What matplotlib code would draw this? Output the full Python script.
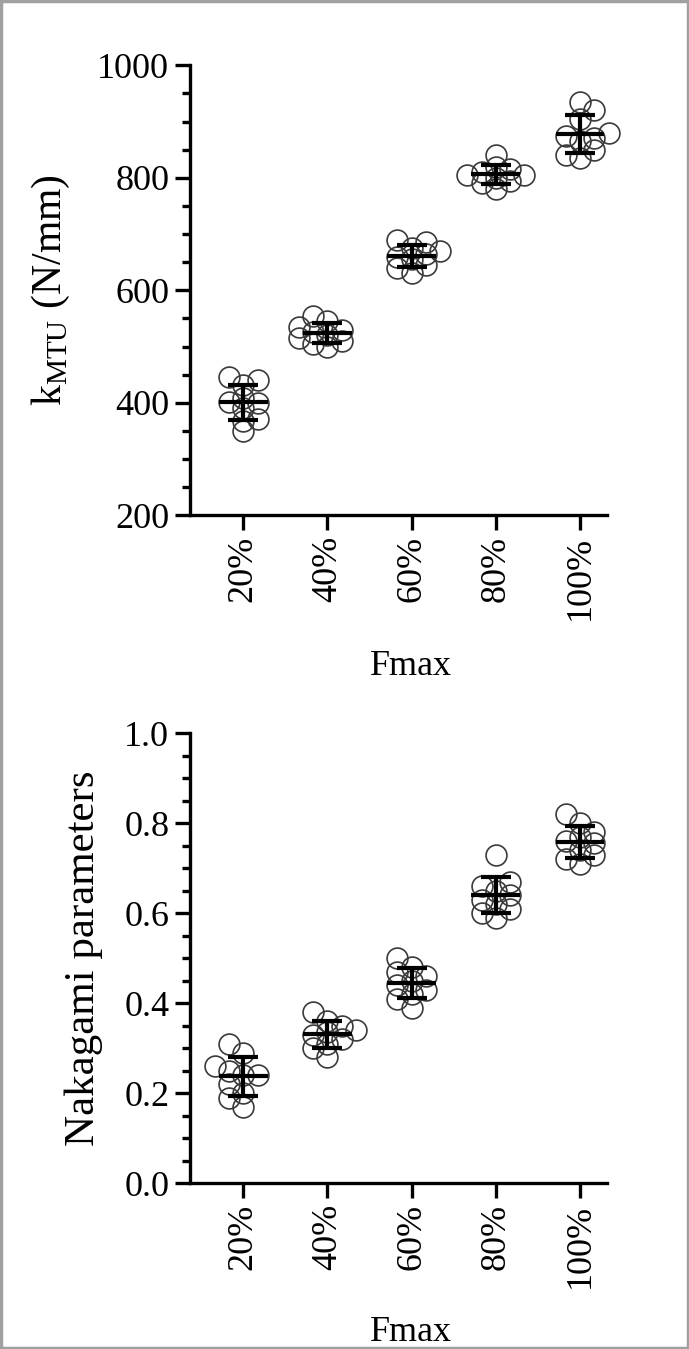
import matplotlib as mpl
import matplotlib.pyplot as plt
import numpy as np
from matplotlib.patches import Rectangle
from matplotlib.ticker import MultipleLocator

mpl.rcParams["font.family"] = "Liberation Serif"
mpl.rcParams["mathtext.fontset"] = "custom"
mpl.rcParams["mathtext.rm"] = "Liberation Serif"
mpl.rcParams["axes.linewidth"] = 2.4

# %%
# Values, one list per loading level
categories = ["20%", "40%", "60%", "80%", "100%"]

k_mtu = [
    [440, 445, 432, 400, 402, 390, 408, 368, 372, 350],
    [555, 545, 535, 530, 525, 520, 515, 505, 500, 510],
    [690, 685, 675, 670, 665, 660, 655, 645, 640, 630],
    [840, 820, 815, 810, 805, 805, 800, 795, 790, 780],
    [935, 920, 905, 880, 875, 870, 865, 850, 840, 835],
]

nakagami = [
    [0.31, 0.29, 0.26, 0.25, 0.24, 0.24, 0.22, 0.20, 0.19, 0.17],
    [0.38, 0.36, 0.35, 0.34, 0.335, 0.33, 0.32, 0.31, 0.30, 0.28],
    [0.50, 0.48, 0.47, 0.46, 0.45, 0.44, 0.43, 0.42, 0.41, 0.39],
    [0.73, 0.67, 0.66, 0.65, 0.64, 0.63, 0.62, 0.61, 0.60, 0.59],
    [0.82, 0.80, 0.78, 0.77, 0.76, 0.755, 0.74, 0.73, 0.72, 0.71],
]


def swarm_offsets(values, px_per_unit_y, px_per_cat, diam=22, overlap=0.45, max_k=2):
    """Loose beeswarm: push points sideways, but only a couple of columns out."""
    ys = np.asarray(values) * px_per_unit_y
    placed = []
    offsets = np.zeros(len(ys))
    step = diam * 0.65
    for n, i in enumerate(np.argsort(ys)):
        sign = 1 if n % 2 == 0 else -1
        best, best_d = 0.0, -1
        done = False
        for k in range(0, max_k + 1):
            cands = [0.0] if k == 0 else [sign * k * step, -sign * k * step]
            for c in cands:
                d = min([np.hypot(c - px, ys[i] - py) for px, py in placed] or [1e9])
                if d >= diam * overlap:
                    best, done = c, True
                    break
                if d > best_d:
                    best, best_d = c, d
            if done:
                break
        placed.append((best, ys[i]))
        offsets[i] = best / px_per_cat
    return offsets


def draw_panel(ax, groups, px_per_unit_y):
    x = np.arange(len(categories))
    for i, vals in enumerate(groups):
        vals = np.asarray(vals, dtype=float)
        off = swarm_offsets(vals, px_per_unit_y, 84.25)
        ax.plot(x[i] + off, vals, "o", ms=15, mfc="none", mec="#3a3a3a",
                mew=1.2, zorder=2, clip_on=False)
        m, sd = vals.mean(), vals.std(ddof=1)
        ax.plot([x[i] - 0.29, x[i] + 0.29], [m, m], color="black", lw=3,
                solid_capstyle="butt", zorder=3)
        ax.errorbar(x[i], m, yerr=sd, fmt="none", ecolor="black", elinewidth=3,
                    capsize=11, capthick=3, zorder=3)
    ax.set_xlim(-0.63, 4.32)
    ax.set_xticks(x)
    ax.set_xticklabels(categories, rotation=90)
    for s in ["top", "right"]:
        ax.spines[s].set_visible(False)
    ax.tick_params(axis="both", which="major", length=11, width=2.4,
                   labelsize=26, pad=4)
    ax.tick_params(axis="y", which="minor", length=6, width=2.4)
    ax.set_xlabel("Fmax", fontsize=26)


fig = plt.figure(figsize=(6.89, 13.49), dpi=100)

ax1 = fig.add_axes([0.276, 0.618, 0.605, 0.3336])
ax1.set_ylim(200, 1000)
draw_panel(ax1, k_mtu, 450 / 800)
ax1.yaxis.set_major_locator(MultipleLocator(200))
ax1.yaxis.set_minor_locator(MultipleLocator(50))
ax1.set_ylabel(r"k$_{\mathrm{MTU}}$ (N/mm)", fontsize=30)
ax1.yaxis.set_label_coords(-0.283, 0.5)
ax1.xaxis.set_label_coords(0.53, -0.30)

ax2 = fig.add_axes([0.276, 0.123, 0.605, 0.3336])
ax2.set_ylim(0, 1.0)
draw_panel(ax2, nakagami, 450)
ax2.yaxis.set_major_locator(MultipleLocator(0.2))
ax2.yaxis.set_minor_locator(MultipleLocator(0.05))
ax2.yaxis.set_major_formatter(mpl.ticker.FormatStrFormatter("%.1f"))
ax2.set_ylabel("Nakagami parameters", fontsize=31)
ax2.yaxis.set_label_coords(-0.209, 0.5)
ax2.xaxis.set_label_coords(0.53, -0.295)

# grey frame round the whole figure
fig.patches.append(Rectangle((0.002, 0.001), 0.996, 0.998, transform=fig.transFigure,
                             fill=False, edgecolor="#a0a0a0", lw=2.5))

fig.savefig("out.png", dpi=100)
